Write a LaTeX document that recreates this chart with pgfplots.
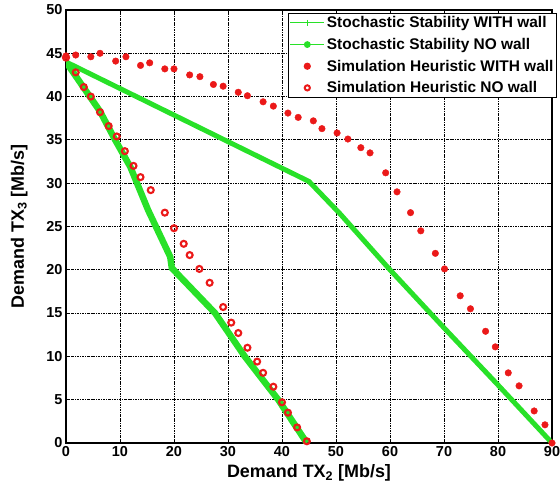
\documentclass[border=0pt]{standalone}
\usepackage{fontspec}
\setmainfont{Liberation Sans}
\usepackage{pgfplots}
\pgfplotsset{compat=1.18}

\definecolor{mgreen}{RGB}{40,225,40}
\definecolor{mred}{RGB}{235,25,25}

\begin{document}
\begin{tikzpicture}
\begin{axis}[
  name=ax,
  scale only axis,
  width=486bp, height=433bp,
  xmin=0, xmax=90, ymin=0, ymax=50,
  xtick={0,10,...,90},
  ytick={0,5,...,50},
  grid=major,
  grid style={black, line width=0.8pt, dash pattern=on 2.5pt off 1pt on 0.8pt off 1pt},
  axis line style={black, line width=1.2pt},
  major tick length=4pt,
  tick style={black, line width=0.8pt},
  /pgf/number format/assume math mode=true,
  tick label style={font=\bfseries\fontsize{14.5}{14.5}\selectfont},
  xlabel={\bfseries Demand TX\textsubscript{2} [Mb/s]},
  ylabel={\bfseries Demand TX\textsubscript{3} [Mb/s]},
  label style={font=\bfseries\fontsize{18}{18}\selectfont},
  xlabel style={yshift=-1pt},
  ylabel style={yshift=12pt},
  legend style={at={(1,1)}, anchor=north east, xshift=5bp, yshift=-3bp,
    draw=black, line width=1.2pt, fill=white, inner sep=1pt,
    font=\bfseries\fontsize{15.5}{16}\selectfont, row sep=5pt,
    nodes={inner sep=2pt}},
  legend cell align=left,
  legend image code/.code={\draw[mark repeat=2, mark phase=2, #1]
    plot coordinates {(0cm,0cm) (0.6cm,0cm) (1.2cm,0cm)};},
]
\addlegendimage{mgreen, line width=1pt, mark=+, mark size=3pt}
\addlegendentry{Stochastic Stability WITH wall}
\addlegendimage{mgreen, line width=1.2pt, mark=*, mark size=2.8pt}
\addlegendentry{Stochastic Stability NO wall}
\addlegendimage{only marks, mred, mark=*, mark size=3pt}
\addlegendentry{Simulation Heuristic WITH wall}
\addlegendimage{only marks, mred, mark=o, mark size=2.6pt, mark options={line width=2pt}}
\addlegendentry{Simulation Heuristic NO wall}
% Stochastic Stability WITH wall
\addplot[mgreen, line width=5pt, forget plot]
coordinates {(0,44) (45,30.2) (50.7,26.5) (60,20) (70,13.3) (80,6.7) (90,0)};
% Stochastic Stability NO wall
\addplot[mgreen, line width=6.5pt, forget plot]
coordinates {(0,44) (6.3,38.3) (9.1,35) (11.9,31.9) (15.2,26.9) (19.3,21.5) (19.6,20.2) (27.6,15) (33.1,10) (39.3,5) (44.6,0)};
% Simulation Heuristic WITH wall
\addplot[only marks, mred, mark=*, mark size=3.3pt, forget plot]
coordinates {(0,44.7) (1.8,44.8) (4.6,44.6) (6.3,45) (9.2,44.1) (11.1,44.6) (13.8,43.6) (15.5,43.9)
 (18.3,43.2) (20,43.2) (22.9,42.5) (24.8,42.3) (27.3,41.4) (29.1,41.2) (31.9,40.5) (33.6,40.1)
 (36.5,39.4) (38.4,38.9) (41.1,38.1) (43,37.6) (45.8,37.2) (47.4,36.3) (50.2,35.8) (52.2,35.1)
 (54.6,34.1) (56.3,33.5) (59.2,31.2) (61.3,29) (63.8,26.6) (65.7,24.5) (68.4,21.9) (70.1,20.1)
 (73,17) (74.9,15.5) (77.7,12.9) (79.5,11.1) (81.9,8.1) (83.9,6.6) (86.7,3.7) (88.7,2.1) (90,0)};
% Simulation Heuristic NO wall
\addplot[only marks, mred, mark=o, mark size=3pt, mark options={line width=2.1pt}, forget plot]
coordinates {(0,44.5) (1.8,42.8) (3.3,41.1) (4.6,40) (6.3,38.2) (7.9,36.6) (9.4,35.4) (10.9,33.7)
 (12.5,32) (13.8,30.7) (15.7,29.2) (18.3,26.6) (20,24.8) (21.8,23) (22.9,21.7) (24.7,20.1)
 (26.6,18.5) (29.1,15.7) (30.6,13.9) (31.9,12.7) (33.6,11) (35.4,9.4) (36.5,8.1) (38.4,6.5)
 (40,4.7) (41.1,3.5) (42.8,1.8) (44.6,0.2)};
\end{axis}
\pgfresetboundingbox
\path ([xshift=-66bp,yshift=-46bp]ax.south west) rectangle ([xshift=8bp,yshift=10bp]ax.north east);
\end{tikzpicture}
\end{document}
